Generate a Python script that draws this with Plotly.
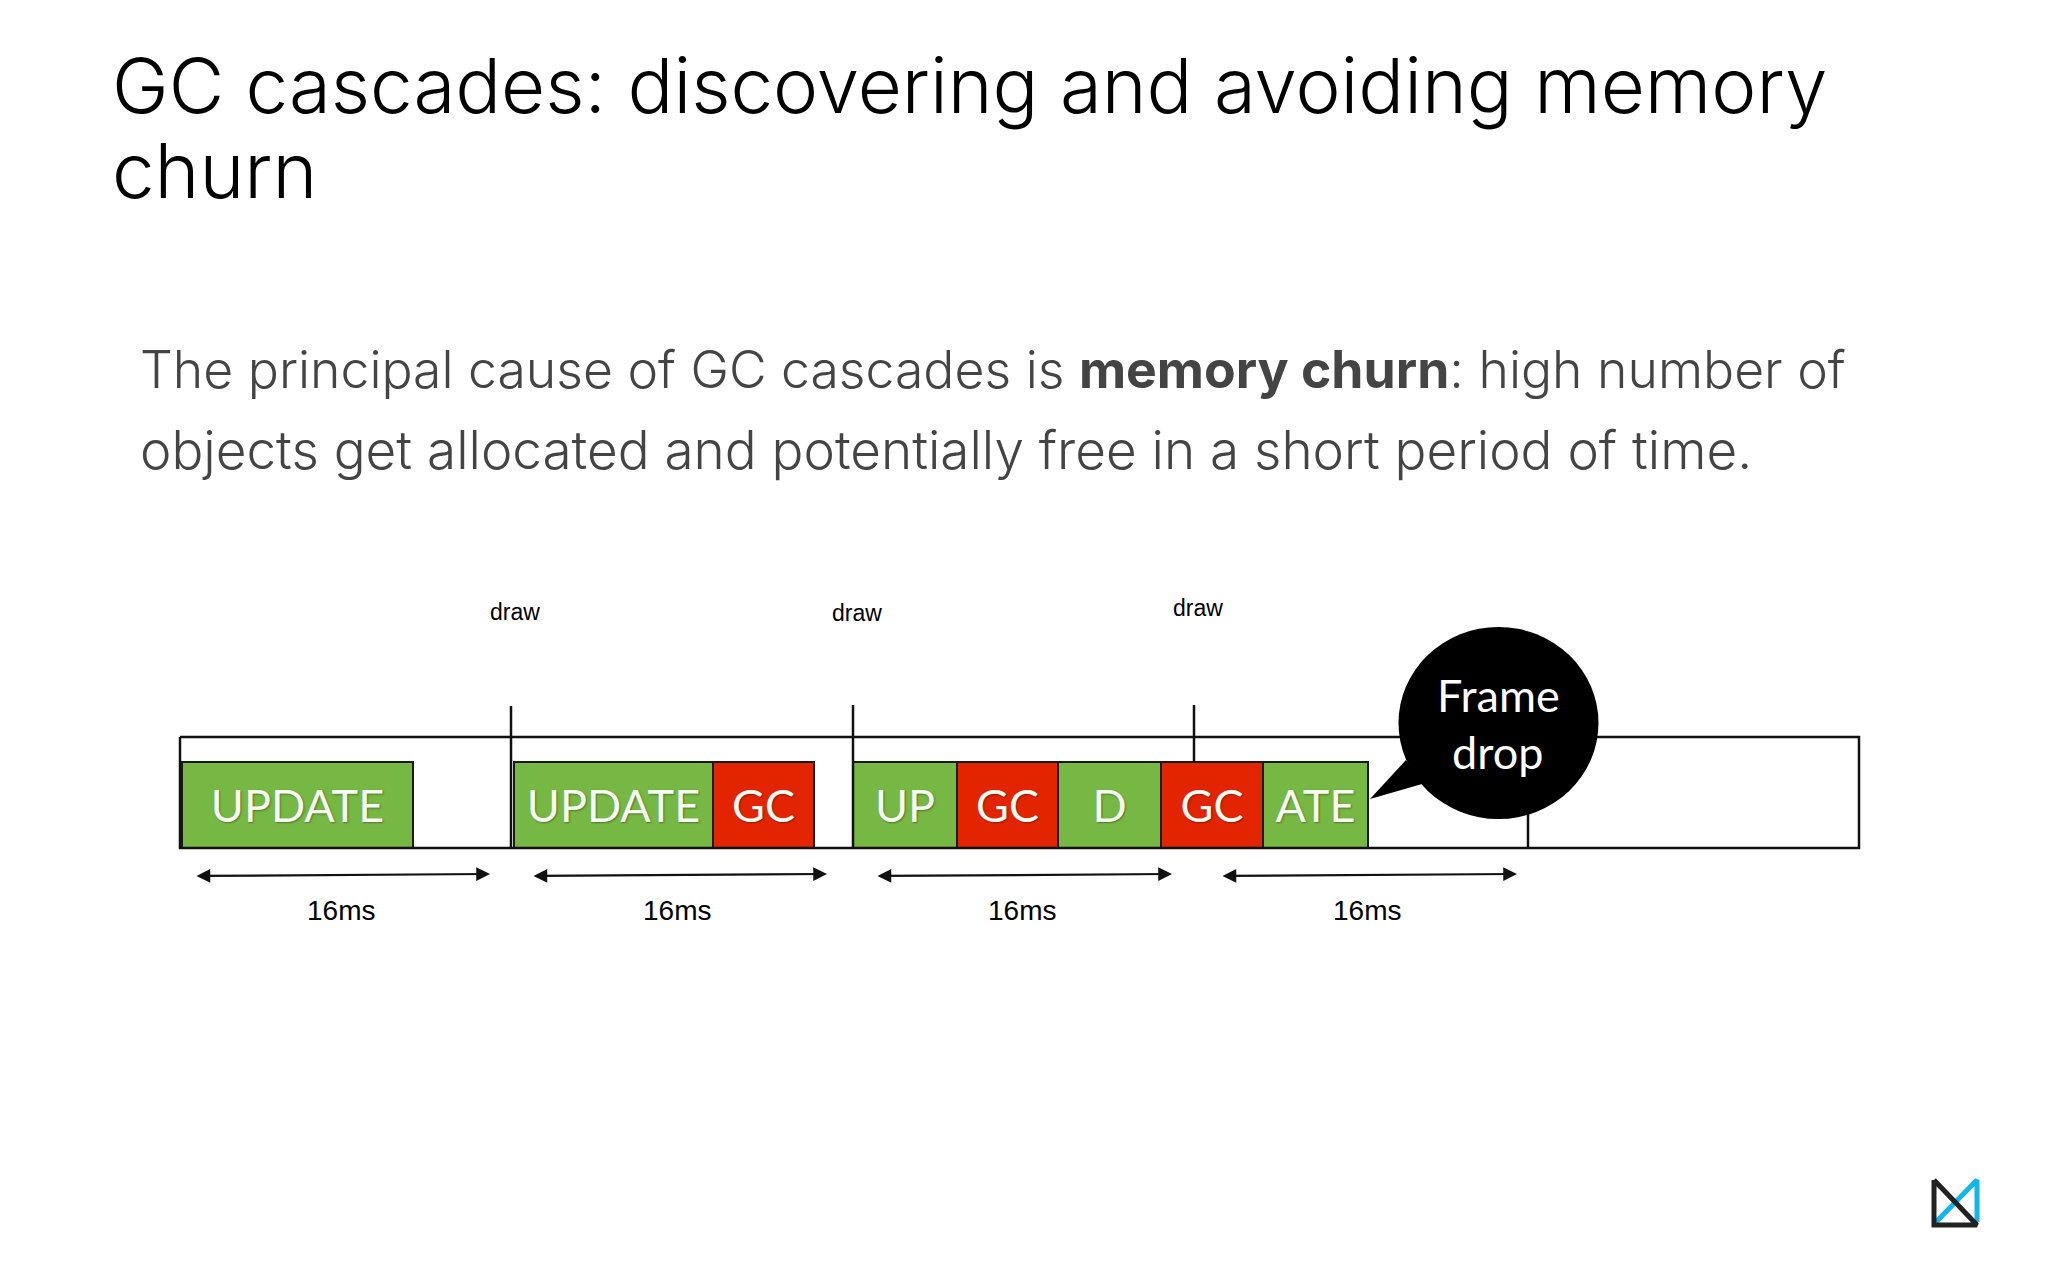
import plotly.graph_objects as go

CANVAS_W, CANVAS_H = 2048, 1280

# Timeline segments
seg_labels = ["UPDATE", "UPDATE", "GC", "UP", "GC", "D", "GC", "ATE"]
seg_start = [182, 514, 713, 853, 957, 1058, 1161, 1263]
seg_end = [413, 713, 814, 957, 1058, 1161, 1263, 1368]
seg_kind = ["work", "work", "gc", "work", "gc", "work", "gc", "work"]
kind_colors = {"work": "#76B843", "gc": "#E22500"}
SEG_TOP, SEG_BOTTOM = 762, 848

# Frame outline and dividers
frame_x = [180, 1859, 1859, 180, 180]
frame_y = [737, 737, 848, 848, 737]
draw_x = [511, 853, 1194]
draw_line_top = [706, 705, 705]
draw_line_bottom = [848, 848, 763]
last_divider_x = 1528

# Labels
draw_label_x = [515, 857, 1198]
draw_label_y = [612, 613, 608]
span_start = [195, 532, 876, 1221]
span_end = [490, 827, 1172, 1517]
span_label_x = [341, 677, 1022, 1367]

title_lines = ["GC cascades: discovering and avoiding memory", "churn"]
body_lines = [
    "The principal cause of GC cascades is <b>memory churn</b>: high number of",
    "objects get allocated and potentially free in a short period of time.",
]

fig = go.Figure()

fig.add_trace(go.Bar(
    orientation="h",
    y=[(SEG_TOP + SEG_BOTTOM) / 2] * len(seg_labels),
    base=seg_start,
    x=[e - s for s, e in zip(seg_start, seg_end)],
    width=SEG_BOTTOM - SEG_TOP,
    marker=dict(color=[kind_colors[k] for k in seg_kind], line=dict(color="#1a1a1a", width=2)),
    text=seg_labels,
    textposition="inside",
    insidetextanchor="middle",
    textangle=0,
    constraintext="none",
    textfont=dict(family="Lato", size=45, color="#F7FBF2", shadow="1px 1px 2px rgba(0,0,0,0.35)"),
    hoverinfo="skip",
))

fig.add_trace(go.Scatter(x=frame_x, y=frame_y, mode="lines",
                         line=dict(color="#111111", width=2.5), hoverinfo="skip"))
for x, top, bottom in zip(draw_x, draw_line_top, draw_line_bottom):
    fig.add_trace(go.Scatter(x=[x, x], y=[top, bottom], mode="lines",
                             line=dict(color="#111111", width=2.5), hoverinfo="skip"))
fig.add_trace(go.Scatter(x=[last_divider_x, last_divider_x], y=[800, 848], mode="lines",
                         line=dict(color="#111111", width=2.5), hoverinfo="skip"))

# Logo
fig.add_trace(go.Scatter(x=[1936, 1977, 1977], y=[1222, 1180, 1222], mode="lines",
                         line=dict(color="#12B5EE", width=5), hoverinfo="skip"))
fig.add_trace(go.Scatter(x=[1934, 1934, 1977, 1934], y=[1180, 1225, 1225, 1180], mode="lines",
                         line=dict(color="#222222", width=5), hoverinfo="skip"))

shapes = [
    dict(type="circle", xref="x", yref="y", x0=1398.5, x1=1598.5, y0=627, y1=819,
         fillcolor="black", line=dict(width=0), layer="above"),
    dict(type="path", xref="x", yref="y", path="M 1406 760 L 1370 799 L 1422 784 Z",
         fillcolor="black", line=dict(width=0), layer="above"),
]

annotations = []


def label(text, x, y, size, color="#000000", family="Liberation Sans", anchor="center", weight=None):
    font = dict(family=family, size=size, color=color)
    if weight:
        font["weight"] = weight
    annotations.append(dict(text=text, x=x, y=y, xref="x", yref="y", showarrow=False,
                            xanchor=anchor, yanchor="middle", font=font, align="left"))


label(title_lines[0], 110, 85, 76.2, "#000000", "Inter", "left", 300)
label(title_lines[1], 110, 170, 76.2, "#000000", "Inter", "left", 300)
label(body_lines[0], 138, 369, 51.7, "#444444", "Inter", "left", 300)
label(body_lines[1], 138, 450, 53, "#444444", "Inter", "left", 300)

for x, y in zip(draw_label_x, draw_label_y):
    label("draw", x, y, 23)
for x in span_label_x:
    label("16ms", x, 910, 28)
for s, e in zip(span_start, span_end):
    annotations.append(dict(text="", x=e, y=874, ax=s, ay=876, xref="x", yref="y", axref="x", ayref="y",
                            showarrow=True, arrowside="end+start", arrowhead=2, arrowsize=1.25,
                            arrowwidth=2.2, arrowcolor="#111111"))
label("Frame", 1498, 695, 45, "#FFFFFF", "Lato")
label("drop", 1497, 752, 45, "#FFFFFF", "Lato")

fig.update_layout(
    width=CANVAS_W, height=CANVAS_H,
    margin=dict(l=0, r=0, t=0, b=0),
    paper_bgcolor="white", plot_bgcolor="white",
    barmode="overlay", showlegend=False, hovermode=False,
    xaxis=dict(range=[0, CANVAS_W], visible=False, fixedrange=True),
    yaxis=dict(range=[CANVAS_H, 0], visible=False, fixedrange=True),
    shapes=shapes, annotations=annotations,
)

fig.write_html("out.html", config={"displayModeBar": False},
               post_script="document.body.style.margin='0';")
